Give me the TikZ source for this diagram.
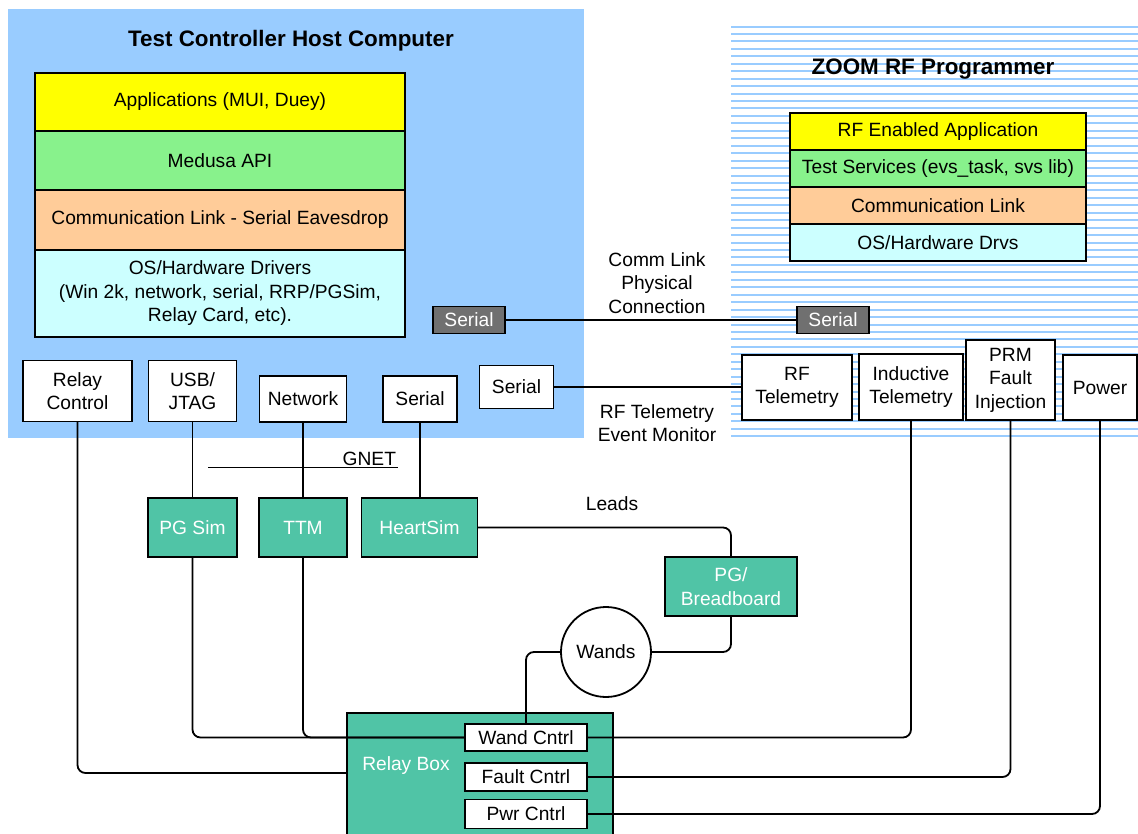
\documentclass[tikz,border=0pt]{standalone}
\usepackage{fontspec}
\setmainfont{Liberation Sans}
\usetikzlibrary{positioning}

\definecolor{hostblue}{RGB}{153,204,255}
\definecolor{layeryellow}{RGB}{255,255,0}
\definecolor{layergreen}{RGB}{136,242,140}
\definecolor{layerorange}{RGB}{255,204,153}
\definecolor{layercyan}{RGB}{204,255,255}
\definecolor{simteal}{RGB}{80,196,166}
\definecolor{plugray}{RGB}{112,112,112}

\begin{document}
\begin{tikzpicture}[x=1pt, y=-1pt, line width=1.8pt,
    every node/.style={font=\fontsize{19.2}{23.5}\selectfont, inner sep=0pt, outer sep=0pt, align=center},
    title/.style={font=\bfseries\fontsize{22.4}{27}\selectfont},
    hostlayer/.style={draw, minimum width=370},
    zoomlayer/.style={draw, minimum width=296, minimum height=37},
    port/.style={draw, fill=white},
    sim/.style={draw, fill=simteal, text=white},
    plug/.style={draw, fill=plugray, text=white, minimum width=72, minimum height=27},
    wire/.style={rounded corners=8pt}]
    \useasboundingbox (0, 0) rectangle (1138, 833);

    % host computer
    \fill[hostblue](8, 9) rectangle (584, 438);
    \node[title] (hosttitle) at (291, 41) {Test Controller Host Computer};
    \node[hostlayer, fill=layeryellow, minimum height=58] (app) at (220, 102) {Applications (MUI, Duey)};
    \node[hostlayer, fill=layergreen, minimum height=59, below=0pt of app] (api) {Medusa API};
    \node[hostlayer, fill=layerorange, minimum height=60, below=0pt of api] (comm) {Communication Link - Serial Eavesdrop};
    \node[hostlayer, fill=layercyan, minimum height=87, below=0pt of comm] (osdrv) {OS/Hardware Drivers\\(Win 2k, network, serial, RRP/PGSim,\\Relay Card, etc).};
    \node[plug] (hostser) at (469, 320) {Serial};
    \node[port, minimum width=109, minimum height=61] (relayctl) at (77.5, 391) {Relay\\Control};
    \node[port, minimum width=88, minimum height=61] (usb) at (192.5, 391) {USB/\\JTAG};
    \node[port, minimum width=87, minimum height=46] (net) at (303, 399) {Network};
    \node[port, minimum width=74, minimum height=46] (hser) at (420, 399) {Serial};
    \node[port, minimum width=74, minimum height=43] (rfser) at (516.5, 387) {Serial};

    % programmer
    \foreach \i in {0, ..., 55}
        \draw[hostblue, line width=2pt](731, {26.5+7.45*\i}) -- (1138, {26.5+7.45*\i});
    \node[title] (zoomtitle) at (933, 69) {ZOOM RF Programmer};
    \node[zoomlayer, fill=layeryellow] (rfapp) at (938, 131.5) {RF Enabled Application};
    \node[zoomlayer, fill=layergreen, below=0pt of rfapp] (svs) {Test Services (evs\_task, svs lib)};
    \node[zoomlayer, fill=layerorange, below=0pt of svs] (rfcomm) {Communication Link};
    \node[zoomlayer, fill=layercyan, below=0pt of rfcomm] (rfdrv) {OS/Hardware Drvs};
    \node[plug] (zoomser) at (833, 320) {Serial};
    \node[port, minimum width=110, minimum height=65] (rftel) at (797, 387.5) {RF\\Telemetry};
    \node[port, minimum width=104, minimum height=66] (induct) at (911, 387) {Inductive\\Telemetry};
    \node[port, minimum width=89, minimum height=80] (prm) at (1010.5, 380) {PRM\\Fault\\Injection};
    \node[port, minimum width=74, minimum height=65] (power) at (1100, 387.5) {Power};

    % simulators and relay box
    \node[sim, minimum width=89, minimum height=59] (pgsim) at (192.5, 527.5) {PG Sim};
    \node[sim, minimum width=88, minimum height=59] (ttm) at (303, 527.5) {TTM};
    \node[sim, minimum width=116, minimum height=59] (heart) at (419.5, 527.5) {HeartSim};
    \node[sim, minimum width=132, minimum height=59] (pgbb) at (731, 586.5) {PG/\\Breadboard};
    \node[circle, draw, fill=white, minimum size=90] (wands) at (606, 652) {Wands};
    \node[sim, minimum width=266, minimum height=130] (relaybox) at (480, 778) {};
    \node[text=white] (relaylbl) at (406, 766) {Relay Box};
    \node[port, minimum width=122, minimum height=27] (wandc) at (526, 737.5) {Wand Cntrl};
    \node[port, minimum width=122, minimum height=28] (faultc) at (526, 777) {Fault Cntrl};
    \node[port, minimum width=122, minimum height=29] (pwrc) at (526, 814) {Pwr Cntrl};

    \coordinate (gnetw) at (208, 467.5);
    \coordinate (gnete) at (398, 467.5);
    \draw(gnetw) -- (gnete) node[above left, inner sep=2pt] (gnetlbl) {GNET};
    \node (leads) at (612, 504) {Leads};
    \node (physlbl) at (657, 283) {Comm Link\\Physical\\Connection};
    \node (monlbl) at (657, 423) {RF Telemetry\\Event Monitor};

    \draw(hostser) -- (zoomser);
    \draw(rfser.east) -- (rfser.east -| rftel.west);
    \draw(usb) -- (pgsim);
    \draw(net) -- (ttm);
    \draw(hser) -- (hser |- heart.north);
    \draw[wire](heart) -| (pgbb);
    \draw[wire](pgbb) |- (wands);
    \draw[wire](wands) -| (wandc);
    \draw[wire](pgsim) |- (wandc);
    \draw[wire](ttm) |- (wandc);
    \draw[wire](relayctl) |- ([yshift=5pt]relaybox.west);
    \draw[wire](wandc) -| (induct);
    \draw[wire](faultc) -| (prm);
    \draw[wire](pwrc) -| (power);
\end{tikzpicture}
\end{document}
